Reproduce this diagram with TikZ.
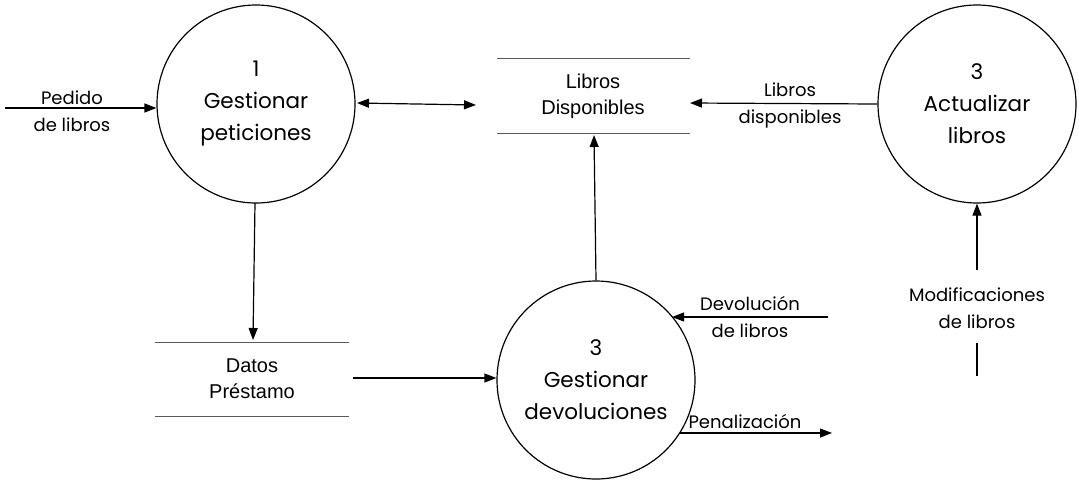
\documentclass[tikz,border=0pt]{standalone}
\usepackage{fontspec}
\setmainfont{Poppins}
\newfontfamily\storefont{Liberation Sans}
\usetikzlibrary{arrows.meta}
\begin{document}
\begin{tikzpicture}[x=1pt,y=-1pt,
  proc/.style={circle,draw,line width=1.2pt,minimum size=198pt,inner sep=0pt,align=center,font=\fontsize{21.5}{32}\selectfont},
  flow/.style={line width=1.2pt,-{Triangle[length=12pt,width=9pt]}},
  lbl/.style={align=center,font=\fontsize{18}{27}\selectfont},
  storeline/.style={line width=1pt,draw=black!65},
  storetxt/.style={align=center,font=\storefont\fontsize{20}{26}\selectfont}]
\useasboundingbox (0,0) rectangle (1079,483);
% processes
\node[proc] (p1) at (256,104) {1\\Gestionar\\peticiones};
\node[proc] (p3) at (977,104) {3\\Actualizar\\libros};
\node[proc] (pd) at (596,380) {3\\Gestionar\\devoluciones};
% stores
\draw[storeline] (497,58) -- (690,58);
\draw[storeline] (497,133) -- (690,133);
\node[storetxt] (s1) at (593,96) {Libros\\Disponibles};
\draw[storeline] (155,342) -- (349,342);
\draw[storeline] (155,416) -- (349,416);
\node[storetxt] (s2) at (252,379) {Datos\\Préstamo};
% free ends
\coordinate (in1) at (5,108);
\coordinate (s1l) at (476,105);
\coordinate (s1r) at (690,103);
\coordinate (s1b) at (594,135);
\coordinate (s2t) at (253,340);
\coordinate (s2r) at (353,378);
\coordinate (devin) at (828,317);
\coordinate (penout) at (832,433);
\coordinate (modin) at (977,376);
% flows
\draw[flow] (in1) -- (p1.west |- in1);
\node[lbl] (l1) at (72,111) {Pedido\\de libros};
\draw[line width=1.2pt,{Triangle[length=12pt,width=9pt]}-{Triangle[length=12pt,width=9pt]}] (357,103) -- (s1l);
\draw[flow] (p3.west) -- (s1r);
\node[lbl] (l2) at (790,105) {Libros\\disponibles};
\draw[flow] (255,203) -- (s2t);
\draw[flow] (pd.north) -- (s1b);
\draw[flow] (s2r) -- (pd.west |- s2r);
\draw[flow] (devin) -- (672,317);
\node[lbl] (l3) at (750,317) {Devolución\\de libros};
\draw[flow] (680,433) -- (penout);
\node[lbl] (l4) at (745,421) {Penalización};
\draw[line width=1.2pt] (modin) -- (977,343);
\draw[flow] (977,270) -- (p3.south);
\node[lbl] (l5) at (977,308) {Modificaciones\\de libros};
\end{tikzpicture}
\end{document}
